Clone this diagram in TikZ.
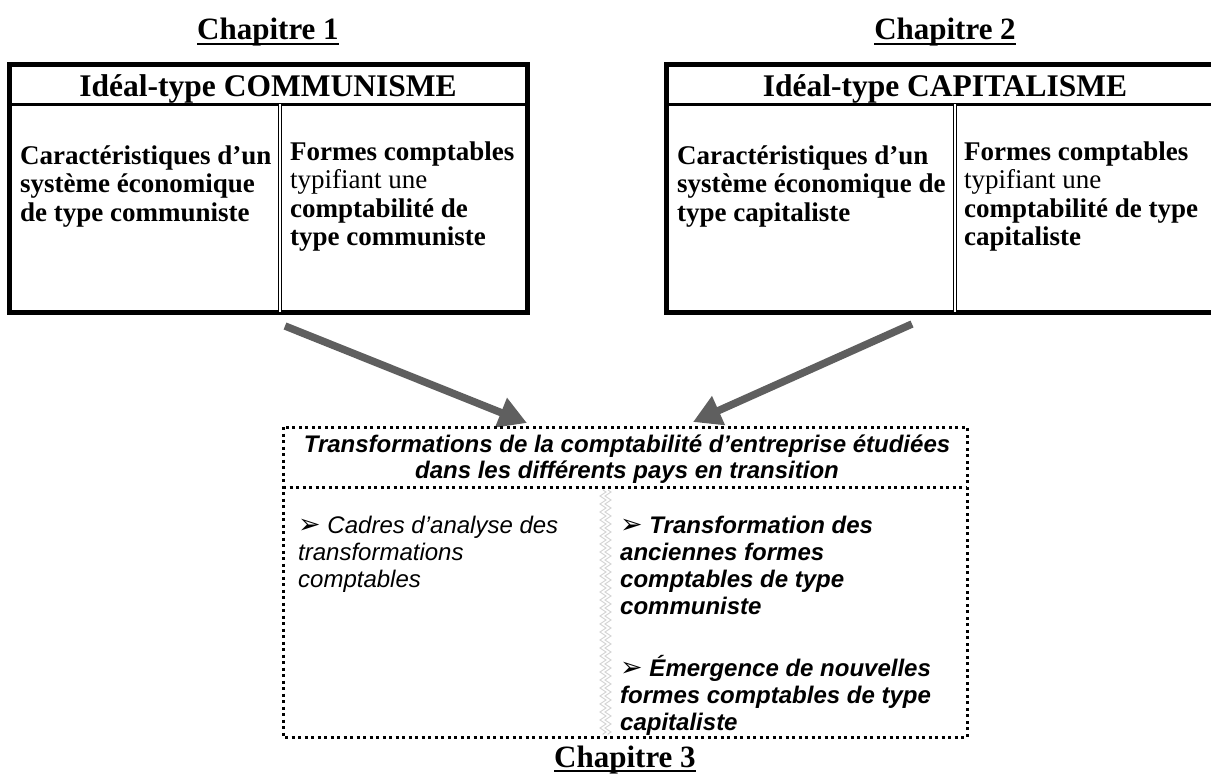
\documentclass[tikz,border=0pt]{standalone}
\usepackage{fontspec}
\setmainfont{Liberation Serif}
\newfontfamily\arialfont{Liberation Sans}
\newfontfamily\dejavu{DejaVu Sans}
\usetikzlibrary{arrows.meta,decorations.pathmorphing}
\definecolor{gris}{HTML}{5F5F5F}
\newcommand{\puce}{{\dejavu\fontsize{27}{27}\selectfont ➢}\ }

\begin{document}
\begin{tikzpicture}[x=1pt,y=-1pt,
		chap/.style={anchor=base,inner sep=0pt,font=\fontsize{31}{36}\selectfont\bfseries},
		titre/.style={anchor=base,inner sep=0pt,font=\fontsize{31.5}{36}\selectfont\bfseries},
		cellule/.style={anchor=base west,inner sep=0pt,align=left,font=\fontsize{27}{28.5}\selectfont},
		souligne/.style={line width=2.5pt},
		cadre/.style={line width=5pt},
		filet/.style={line width=3pt},
		doubletrait/.style={double,line width=1.3pt,double distance=2.2pt},
		fleche/.style={line width=7.5pt,draw=gris,-{Triangle[length=28pt,width=30pt]}},
		pointille/.style={line width=3pt,dash pattern=on 3pt off 3.5pt},
		zz/.style={draw=gray!35,line width=.9pt,decorate,decoration={zigzag,segment length=8pt,amplitude=3pt}},
		entete/.style={anchor=base,inner sep=0pt,align=center,font=\arialfont\fontsize{24}{26}\selectfont\bfseries\itshape},
		puces/.style={anchor=base west,inner sep=0pt,align=left,font=\arialfont\fontsize{24}{27}\selectfont\itshape}]
		\useasboundingbox (0,0) rectangle (1211,776);
		\def\ytop{64.5} \def\yhead{104.5} \def\ybot{312} % boites du haut
		% Chapitres
		\node[chap] (ch1) at (268,40) {Chapitre 1};
		\node[chap] (ch2) at (945,40) {Chapitre 2};
		\node[chap] (ch3) at (625,767) {Chapitre 3};
		\foreach \c in {ch1,ch2,ch3}
		\draw[souligne] ([yshift=-4pt]\c.base west) -- ([yshift=-4pt]\c.base east);
		% Ideal-type communisme
		\draw[cadre] (9,\ytop) rectangle (527,\ybot);
		\draw[filet] (9,\yhead) -- (527,\yhead);
		\draw[doubletrait] (280,\yhead) -- (280,\ybot);
		\node[titre] (tcomm) at (268,96) {Idéal-type COMMUNISME};
		\node[cellule,font=\fontsize{27}{28.5}\selectfont\bfseries] (carcomm) at (20,221) {Caractéristiques d’un\\système économique\\de type communiste};
		\node[cellule] (formcomm) at (290,245.5) {\textbf{Formes comptables}\\typifiant une\\\textbf{comptabilité de}\\\textbf{type communiste}};
		% Ideal-type capitalisme
		\draw[cadre] (666,\ytop) rectangle (1224,\ybot);
		\draw[filet] (666,\yhead) -- (1224,\yhead);
		\draw[doubletrait] (955,\yhead) -- (955,\ybot);
		\node[titre] (tcap) at (945,96) {Idéal-type CAPITALISME};
		\node[cellule,font=\fontsize{27}{28.5}\selectfont\bfseries] (carcap) at (677,221) {Caractéristiques d’un\\système économique de\\type capitaliste};
		\node[cellule] (formcap) at (964,245.5) {\textbf{Formes comptables}\\typifiant une\\\textbf{comptabilité de type}\\\textbf{capitaliste}};
		% fleches
		\coordinate (d1) at (285,326); \coordinate (f1) at (527,423);
		\coordinate (d2) at (912,324); \coordinate (f2) at (693,422);
		\draw[fleche] (d1) -- (f1);
		\draw[fleche] (d2) -- (f2);
		% Chapitre 3
		\draw[pointille] (283,427) rectangle (967,737);
		\draw[pointille] (283,487) -- (967,487);
		\draw[zz] (603,490) -- (603,735);
		\draw[zz] (608,490) -- (608,735);
		\node[entete] (trans) at (627,478) {Transformations de la comptabilité d’entreprise étudiées\\dans les différents pays en transition};
		\node[puces] (cadres) at (298,587) {\puce Cadres d’analyse des\\transformations\\comptables};
		\node[puces,font=\arialfont\fontsize{24}{27}\selectfont\bfseries\itshape] (anciennes) at (620,614) {\puce Transformation des\\anciennes formes\\comptables de type\\communiste};
		\node[puces,font=\arialfont\fontsize{24}{27}\selectfont\bfseries\itshape] (nouvelles) at (620,730) {\puce Émergence de nouvelles\\formes comptables de type\\capitaliste};
\end{tikzpicture}
\end{document}
